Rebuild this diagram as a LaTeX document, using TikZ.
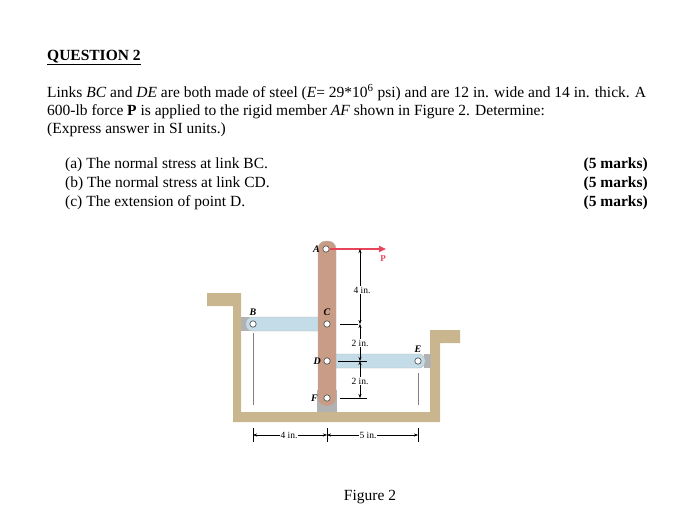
\documentclass[tikz,border=0pt]{standalone}
\usepackage{fontspec}
\setmainfont{Liberation Serif}
\usepackage{amsmath}
\usetikzlibrary{arrows.meta}
\definecolor{wall}{HTML}{C9B68E}
\definecolor{rodbrown}{HTML}{C99C86}
\definecolor{linkblue}{HTML}{C3DCE8}
\definecolor{forcered}{HTML}{E8455A}
\tikzset{
  txt/.style={anchor=base west,inner sep=0pt,font=\fontsize{15.5}{18}\selectfont},
  mrk/.style={anchor=base east,inner sep=0pt,font=\fontsize{15.5}{18}\selectfont\bfseries},
  lbl/.style={font=\fontsize{10}{11}\selectfont\itshape\bfseries,inner sep=1pt},
  dimlbl/.style={font=\fontsize{9.5}{10}\selectfont,fill=white,inner sep=1pt},
  pin/.style={draw=gray!70!black,fill=white,line width=0.7pt},
  dimarr/.style={-{Stealth[length=4pt,width=3pt]},line width=0.4pt}
}
\begin{document}
\begin{tikzpicture}[x=1pt,y=-1pt]
\useasboundingbox (0,0) rectangle (689,530);
% Question text
\node[txt,font=\fontsize{15.5}{18}\selectfont\bfseries] (q) at (47,60) {\underline{QUESTION 2}};
\node[txt] (l1) at (47,97) {Links \textit{BC} and \textit{DE} are both made of steel (\textit{E}= 29*10\textsuperscript{6} psi) and are 12 in. wide and 14 in. thick. A};
\node[txt] (l2) at (47,115) {600-lb force \textbf{P} is applied to the rigid member \textit{AF} shown in Figure 2. Determine:};
\node[txt] (l3) at (47,133) {(Express answer in SI units.)};
\node[txt] (a) at (65,168) {(a) The normal stress at link BC.};
\node[txt] (b) at (65,187) {(b) The normal stress at link CD.};
\node[txt] (c) at (65,206) {(c) The extension of point D.};
\foreach \y in {168,187,206} \node[mrk] at (648,\y) {(5 marks)};
% Wall
\fill[wall] (207,293) -- (241,293) -- (241,412) -- (430,412) -- (430,330) -- (460,330)
  -- (460,343) -- (440,343) -- (440,422) -- (233,422) -- (233,306) -- (207,306) -- cycle;
% Pin supports
\fill[gray!60] (241,317) rectangle (250,331);
\fill[gray!60] (424,354) rectangle (431,368);
\fill[gray!60] (317,390) rectangle (337,412);
% Links
\draw[fill=linkblue,draw=gray!60,rounded corners=6pt] (246,317) rectangle (334,331);
\draw[fill=linkblue,draw=gray!60,rounded corners=6pt] (320,354) rectangle (425,368);
% Rigid member AF
\draw[fill=rodbrown,draw=gray!60,rounded corners=8pt] (318,241) rectangle (336,406);
% Pins
\coordinate (A) at (326,249);
\coordinate (B) at (253,324);
\coordinate (C) at (327,324);
\coordinate (D) at (327,361);
\coordinate (E) at (418,361);
\coordinate (F) at (327,398);
\foreach \p in {A,B,C,D,E,F} \draw[pin] (\p) circle (3.2pt);
\node[lbl,left=5pt] at (A) {A};
\node[lbl,above=7pt] at (B) {B};
\node[lbl,above=7pt] at (C) {C};
\node[lbl,left=5pt] at (D) {D};
\node[lbl,above=7pt] at (E) {E};
\node[lbl,left=8pt] at (F) {F};
% Force P
\draw[forcered,line width=1.6pt,-{Triangle[length=7pt,width=6pt]}] (A) ++(4,0) coordinate (P0) -- ++(56,0) coordinate (P1);
\node[font=\fontsize{9}{10}\selectfont\bfseries,text=forcered] (P) at (383,259) {P};
% Vertical dimensions
\coordinate (vA) at (360,249);
\coordinate (vC) at (360,324);
\coordinate (vD) at (360,361);
\coordinate (vF) at (360,398);
\draw[line width=0.4pt] (340,324) -- (358,324);
\draw[line width=0.4pt] (338,361) -- (367,361);
\draw[line width=0.4pt] (340,398) -- (367,398);
\draw[dimarr] (vA) ++(0,38) -- (vA);
\draw[dimarr] (vA) ++(0,38) -- (vC);
\draw[dimarr] (vC) ++(0,18) -- (vC);
\draw[dimarr] (vC) ++(0,18) -- (vD);
\draw[dimarr] (vD) ++(0,18) -- (vD);
\draw[dimarr] (vD) ++(0,18) -- (vF);
\node[dimlbl] at (362,290) {4 in.};
\node[dimlbl] at (360,343) {2 in.};
\node[dimlbl] at (360,381) {2 in.};
% Horizontal dimensions
\draw[line width=0.4pt,gray] (253,333) -- (253,405);
\draw[line width=0.4pt,gray] (418,373) -- (418,405);
\draw[line width=0.4pt] (253,428) -- (253,442);
\draw[line width=0.4pt] (327,428) -- (327,442);
\draw[line width=0.4pt] (418,428) -- (418,442);
\coordinate (h1) at (253,435);
\coordinate (h2) at (327,435);
\coordinate (h3) at (418,435);
\draw[dimarr] (290,435) -- (h1);
\draw[dimarr] (290,435) -- (h2);
\draw[dimarr] (372,435) -- (h2);
\draw[dimarr] (372,435) -- (h3);
\node[dimlbl] at (289,435) {4 in.};
\node[dimlbl] at (368,435) {5 in.};
% Caption
\node[font=\fontsize{15.5}{18}\selectfont] (cap) at (370,497) {Figure 2};
\end{tikzpicture}
\end{document}
